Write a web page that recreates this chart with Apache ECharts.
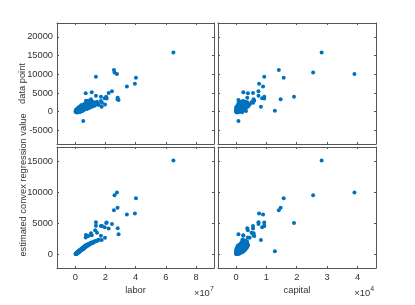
<!DOCTYPE html>
<html>
<head>
<meta charset="utf-8">
<script src="https://cdn.jsdelivr.net/npm/echarts@6/dist/echarts.min.js"></script>
<style>html,body{margin:0;padding:0;background:#fff;}#c{width:415px;height:305px;}</style>
</head>
<body>
<div id="c"></div>
<script>
// labor in units of 10^7, capital in units of 10^4 (as displayed on the axes)
const labor = [
  6.50, 2.76, 2.60, 4.02, 2.56, 2.80, 3.95, 3.42, 1.37, 0.30,
  2.05, 2.43, 2.21, 1.09, 2.81, 2.87, 0.53, 1.75, 1.37, 1.70,
  1.95, 2.08, 1.04, 0.86, 0.71, 0.69, 1.44, 1.70, 1.32, 1.77, 1.97,
  0.02, 0.04, 0.05, 0.07, 0.08, 0.10, 0.11, 0.12, 0.14, 0.15,
  0.16, 0.18, 0.19, 0.20, 0.22, 0.23, 0.25, 0.26, 0.28, 0.29,
  0.30, 0.32, 0.33, 0.34, 0.36, 0.37, 0.38, 0.40, 0.41, 0.42,
  0.44, 0.45, 0.46, 0.48, 0.49, 0.50, 0.52, 0.53, 0.55, 0.56,
  0.58, 0.59, 0.60, 0.62, 0.63, 0.65, 0.66, 0.68, 0.70, 0.71,
  0.73, 0.75, 0.76, 0.78, 0.80, 0.82, 0.84, 0.85, 0.87, 0.89,
  0.91, 0.93, 0.95, 0.97, 0.99, 1.01, 1.04, 1.06, 1.08, 1.11,
  1.14, 1.17, 1.20, 1.24, 1.28, 1.33, 1.38, 1.44, 1.50, 1.56,
  0.03, 0.06, 0.09, 0.13, 0.17, 0.21, 0.24, 0.27, 0.31, 0.35,
  0.39, 0.43, 0.47, 0.51, 0.57, 0.61, 0.67, 0.72, 0.79, 0.86
];
const capital = [
  2.82, 3.90, 2.54, 1.57, 1.41, 1.47, 0.76, 0.89, 0.93, 1.28,
  1.91, 0.74, 0.56, 0.24, 0.37, 0.08, 0.08, 0.82, 0.74, 0.93,
  0.86, 0.93, 0.58, 0.60, 0.57, 0.39, 0.51, 0.24, 0.39, 0.56, 0.45,
  0.02, 0.10, 0.00, 0.06, 0.12, 0.03, 0.15, 0.08, 0.04, 0.18,
  0.10, 0.05, 0.20, 0.13, 0.01, 0.22, 0.07, 0.16, 0.25, 0.09,
  0.14, 0.27, 0.03, 0.19, 0.11, 0.30, 0.06, 0.23, 0.15, 0.12,
  0.28, 0.08, 0.20, 0.33, 0.04, 0.17, 0.25, 0.10, 0.36, 0.21,
  0.13, 0.30, 0.06, 0.24, 0.18, 0.38, 0.11, 0.27, 0.20, 0.09,
  0.33, 0.15, 0.22, 0.40, 0.08, 0.26, 0.18, 0.30, 0.12, 0.35,
  0.21, 0.28, 0.14, 0.37, 0.24, 0.17, 0.32, 0.22, 0.27, 0.19,
  0.30, 0.25, 0.34, 0.20, 0.28, 0.36, 0.23, 0.31, 0.26, 0.21,
  0.00, 0.04, 0.07, 0.01, 0.02, 0.09, 0.05, 0.11, 0.08, 0.00,
  0.03, 0.06, 0.13, 0.01, 0.16, 0.05, 0.19, 0.04, 0.14, 0.07
];
const dataPoint = [
  15800, 10100, 10450, 9050, 11150, 3300, 7450, 6750, 9360, 270,
  4000, 5450, 5000, 5190, 3740, 3130, -2490, 1340, 4280, 4010,
  3580, 3500, 3310, 2940, 2940, 4920, 2510, 2860, 2000, 2400, 1900,
  200, -100, 400, 600, 100, -200, 300, 700, 50, 500,
  900, 250, -150, 600, 1100, 350, 800, 150, 1300, 450,
  700, 1000, -50, 550, 1500, 850, 300, 1200, 650, 1800,
  400, 950, 1400, 200, 1100, 750, 1650, 500, 1300, 900,
  2000, 600, 1250, 1700, 850, 1450, 2200, 1000, 1600, 2400,
  1150, 1850, 700, 1400, 2100, 1200, 1750, 2600, 900, 1550,
  2250, 1300, 1900, 2500, 1100, 1700, 2300, 1500, 2000, 2700,
  1400, 2200, 1800, 2500, 1600, 2300, 1900, 2600, 2100, 1800,
  0, 350, 150, 450, 50, 250, 450, 1000, 150, 350,
  600, 1000, 400, 1200, 550, 1300, 800, 1500, 1000, 1800
];
const estimated = [
  15100, 9940, 9500, 9030, 7100, 7500, 6550, 6390, 4600, 500,
  5050, 4890, 4130, 3060, 4190, 3230, 800, 2300, 5160, 4560,
  4350, 5100, 3390, 2950, 3110, 2700, 3480, 3000, 3870, 4560, 2680,
  50, 80, 150, 60, 200, 120, 250, 180, 300, 330,
  220, 400, 350, 450, 300, 500, 420, 550, 480, 600,
  520, 650, 580, 700, 620, 750, 680, 800, 720, 850,
  780, 900, 820, 950, 880, 1000, 930, 1050, 1100, 980,
  1150, 1080, 1200, 1130, 1250, 1300, 1180, 1350, 1280, 1400,
  1330, 1450, 1380, 1500, 1430, 1550, 1480, 1600, 1530, 1650,
  1580, 1700, 1630, 1750, 1680, 1800, 1730, 1850, 1780, 1900,
  1830, 1950, 1880, 2000, 2050, 2100, 2150, 2200, 2280, 2350,
  100, 180, 280, 150, 380, 350, 560, 400, 700, 560,
  850, 720, 1000, 850, 1200, 1000, 1400, 1200, 1550, 1400
];
const laborTicks = [0, 2, 4, 6, 8];
const capitalTicks = [0, 1, 2, 3, 4];
const topYTicks = [-5000, 0, 5000, 10000, 15000, 20000];
const bottomYTicks = [0, 5000, 10000, 15000];

const FONT = 'Liberation Sans, Arial, Helvetica, sans-serif';
const AXC = '#555';
const LBC = '#333';
const FS = 9.3;

const grids = [
  {left: 57, top: 23, width: 157, height: 121},
  {left: 218, top: 23, width: 158, height: 121},
  {left: 57, top: 147, width: 157, height: 121},
  {left: 218, top: 147, width: 158, height: 121}
];
const xRange = [[-1.21, 9.19], [-0.593, 4.61], [-1.21, 9.19], [-0.593, 4.61]];
const xTicks = [laborTicks, capitalTicks, laborTicks, capitalTicks];
const yRange = [[-8640, 23720], [-8640, 23720], [-2200, 17250], [-2200, 17250]];
const yTicks = [topYTicks, topYTicks, bottomYTicks, bottomYTicks];

function axis(kind, g, pos, showLabel) {
  const r = kind === 'x' ? xRange[g] : yRange[g];
  const t = kind === 'x' ? xTicks[g] : yTicks[g];
  return {
    type: 'value', gridIndex: g, position: pos, min: r[0], max: r[1],
    axisLine: {show: true, onZero: false, lineStyle: {color: AXC, width: 1}},
    axisTick: {show: true, inside: true, length: 2, customValues: t, lineStyle: {color: AXC}},
    axisLabel: {show: showLabel, customValues: t, fontSize: FS, color: LBC, fontFamily: FONT,
      margin: kind === 'x' ? 5 : 4, formatter: v => String(v)},
    splitLine: {show: false}
  };
}
const xAxes = [], yAxes = [];
for (let g = 0; g < 4; g++) {
  xAxes.push(axis('x', g, 'bottom', g >= 2));
  xAxes.push(axis('x', g, 'top', false));
  yAxes.push(axis('y', g, 'left', g % 2 === 0));
  yAxes.push(axis('y', g, 'right', false));
}
const xs = [labor, capital, labor, capital];
const ys = [dataPoint, dataPoint, estimated, estimated];
const series = [];
for (let g = 0; g < 4; g++) {
  series.push({
    type: 'scatter', xAxisIndex: 2 * g, yAxisIndex: 2 * g,
    symbol: 'circle', symbolSize: 4,
    itemStyle: {color: '#0072BD', opacity: 1},
    data: xs[g].map((v, i) => [v, ys[g][i]])
  });
}
function txt(x, y, s, opts, rot) {
  return {type: 'text', x: x, y: y, rotation: rot || 0, silent: true,
    style: Object.assign({text: s, font: FS + 'px ' + FONT,
    fill: LBC, align: 'center', verticalAlign: 'middle'}, opts || {})};
}
const graphic = [
  txt(22, 83.5, 'data point', null, Math.PI / 2),
  txt(23, 185, 'estimated convex regression value', null, Math.PI / 2),
  txt(135.5, 290.7, 'labor'),
  txt(297, 290.7, 'capital'),
  txt(194, 293.5, '×10', {align: 'left'}),
  txt(210, 289, '7', {align: 'left', font: '7px ' + FONT}),
  txt(354.3, 293.5, '×10', {align: 'left'}),
  txt(370.2, 289, '4', {align: 'left', font: '7px ' + FONT})
];
const chart = echarts.init(document.getElementById('c'), null, {renderer: 'canvas'});
chart.setOption({
  animation: false,
  backgroundColor: '#fff',
  textStyle: {fontFamily: FONT},
  grid: grids,
  xAxis: xAxes,
  yAxis: yAxes,
  series: series,
  graphic: graphic
});
</script>
</body>
</html>
